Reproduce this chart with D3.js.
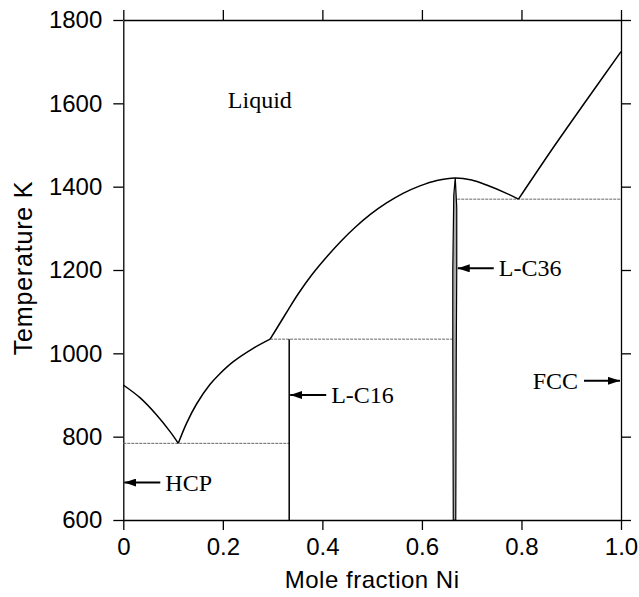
<!DOCTYPE html>
<html>
<head>
<meta charset="utf-8">
<script src="https://cdn.jsdelivr.net/npm/d3@7"></script>
<style>
  body { margin: 0; background: #fff; }
  svg { display: block; }
  .axis path, .axis line { stroke: #000; stroke-width: 1.3; }
  .axis text { font-family: "Liberation Sans", Arial, sans-serif; font-size: 24px; fill: #000; }
  .lbl { font-family: "Liberation Serif", "Times New Roman", serif; font-size: 24px; fill: #000; }
</style>
</head>
<body>
<div id="chart"></div>
<script>
// tick values and labels
var xTicks = [0, 0.2, 0.4, 0.6, 0.8, 1.0];
var xTickLabels = ["0", "0.2", "0.4", "0.6", "0.8", "1.0"];
var yTicks = [600, 800, 1000, 1200, 1400, 1600, 1800];

// liquidus branches, [mole fraction Ni, T in K]
var liqHCP = [[0, 924], [0.034, 893], [0.067, 852], [0.094, 812], [0.1105, 784]];
var liqC16 = [[0.1105, 784], [0.127, 832], [0.1475, 879], [0.174, 925], [0.194, 951],
              [0.221, 980], [0.261, 1012], [0.295, 1034]];
var liqC36 = [[0.295, 1034], [0.311, 1065], [0.3315, 1105], [0.3516, 1143], [0.3785, 1188],
              [0.412, 1236], [0.4388, 1271], [0.4655, 1302], [0.497, 1334], [0.529, 1361],
              [0.562, 1384], [0.596, 1402], [0.63, 1415], [0.667, 1421], [0.70, 1416],
              [0.730, 1404], [0.770, 1384], [0.794, 1370]];
var liqFCC = [[0.794, 1370], [0.864, 1494], [0.931, 1608], [1.0, 1724]];

// narrow L-C36 phase field
var c36Left  = [[0.663, 600], [0.662, 1000], [0.662, 1200], [0.664, 1380], [0.667, 1421]];
var c36Right = [[0.667, 1421], [0.670, 1350], [0.670, 1200], [0.669, 1000], [0.668, 600]];

// invariant (horizontal) lines: [x0, x1, T]
var invariants = [[0, 1/3, 784], [0.295, 0.662, 1034], [0.671, 1.0, 1370]];
// L-C16 line compound
var c16X = 1/3, c16Top = 1034;

// labelled arrows
var arrowLabels = ["HCP", "L-C16", "L-C36", "FCC"];
var arrowX = [0, 1/3, 0.670, 1.0];
var arrowT = [690, 900, 1204, 934];
var arrowDir = [-1, -1, -1, 1];   // -1 points left, 1 points right

var regionLabel = "Liquid", regionX = 0.21, regionT = 1590;

var width = 639, height = 597;
var margin = {top: 20, right: 18, bottom: 77, left: 123.3};

var svg = d3.select("#chart").append("svg")
    .attr("width", width)
    .attr("height", height);

var x = d3.scaleLinear().domain([0, 1]).range([margin.left, width - margin.right]);
var y = d3.scaleLinear().domain([600, 1800]).range([height - margin.bottom, margin.top]);

svg.append("defs").append("marker")
    .attr("id", "head")
    .attr("markerUnits", "userSpaceOnUse")
    .attr("viewBox", "0 0 12 8")
    .attr("refX", 12).attr("refY", 4)
    .attr("markerWidth", 12).attr("markerHeight", 8)
    .attr("orient", "auto")
  .append("path")
    .attr("d", "M0,0L12,4L0,8Z")
    .attr("fill", "#000");

// axes
svg.append("g").attr("class", "axis")
    .attr("transform", "translate(0," + y(600) + ")")
    .call(d3.axisBottom(x).tickValues(xTicks).tickSize(10).tickPadding(8).tickSizeOuter(0)
      .tickFormat(function(d, i) { return xTickLabels[i]; }));
svg.append("g").attr("class", "axis")
    .attr("transform", "translate(0," + y(1800) + ")")
    .call(d3.axisTop(x).tickValues(xTicks).tickSize(10).tickSizeOuter(0).tickFormat(""));
svg.append("g").attr("class", "axis")
    .attr("transform", "translate(" + x(0) + ",0)")
    .call(d3.axisLeft(y).tickValues(yTicks).tickSize(10).tickPadding(11).tickSizeOuter(0)
      .tickFormat(d3.format("d")));
svg.append("g").attr("class", "axis")
    .attr("transform", "translate(" + x(1) + ",0)")
    .call(d3.axisRight(y).tickValues(yTicks).tickSize(10).tickSizeOuter(0).tickFormat(""));

svg.append("text")
    .attr("x", (x(0) + x(1)) / 2)
    .attr("y", 588)
    .attr("text-anchor", "middle")
    .style("font-family", "Liberation Sans, Arial, sans-serif")
    .style("font-size", "24px")
    .style("letter-spacing", "0.5px")
    .text("Mole fraction Ni");

svg.append("text")
    .attr("transform", "translate(32," + (y(1200) - 2) + ") rotate(-90)")
    .attr("text-anchor", "middle")
    .style("font-family", "Liberation Sans, Arial, sans-serif")
    .style("font-size", "25px")
    .style("letter-spacing", "0.8px")
    .text("Temperature K");

// invariant lines
svg.selectAll(".inv").data(invariants).enter().append("line")
    .attr("class", "inv")
    .attr("x1", function(d) { return x(d[0]); })
    .attr("x2", function(d) { return x(d[1]); })
    .attr("y1", function(d) { return y(d[2]); })
    .attr("y2", function(d) { return y(d[2]); })
    .attr("stroke", "#666")
    .attr("stroke-width", 1)
    .attr("stroke-dasharray", "3,1");

svg.append("line")
    .attr("x1", x(c16X)).attr("x2", x(c16X))
    .attr("y1", y(600)).attr("y2", y(c16Top))
    .attr("stroke", "#000").attr("stroke-width", 1.5);

// C36 lens
var lens = d3.line().x(function(d) { return x(d[0]); }).y(function(d) { return y(d[1]); });
svg.append("path")
    .attr("d", lens(c36Left.concat(c36Right)) + "Z")
    .attr("fill", "#aaa")
    .attr("stroke", "#000")
    .attr("stroke-width", 1.2);

// liquidus
var curve = d3.line()
    .x(function(d) { return x(d[0]); })
    .y(function(d) { return y(d[1]); })
    .curve(d3.curveCatmullRom.alpha(0.5));

svg.selectAll(".liq").data([liqHCP, liqC16, liqC36, liqFCC]).enter().append("path")
    .attr("class", "liq")
    .attr("d", curve)
    .attr("fill", "none")
    .attr("stroke", "#000")
    .attr("stroke-width", 1.5);

// arrows with labels
var arrowLen = 36;
arrowLabels.forEach(function(label, i) {
  var tipX = x(arrowX[i]) + (arrowDir[i] < 0 ? 1 : -1);
  var tailX = tipX - arrowDir[i] * arrowLen;
  var ay = y(arrowT[i]);
  svg.append("line")
      .attr("x1", tailX).attr("y1", ay)
      .attr("x2", tipX).attr("y2", ay)
      .attr("stroke", "#000").attr("stroke-width", 2)
      .attr("marker-end", "url(#head)");
  svg.append("text")
      .attr("class", "lbl")
      .attr("x", arrowDir[i] < 0 ? tailX + 5 : tailX - 6)
      .attr("y", ay + 8)
      .attr("text-anchor", arrowDir[i] < 0 ? "start" : "end")
      .text(label);
});

svg.append("text")
    .attr("class", "lbl")
    .attr("x", x(regionX))
    .attr("y", y(regionT))
    .text(regionLabel);
</script>
</body>
</html>
